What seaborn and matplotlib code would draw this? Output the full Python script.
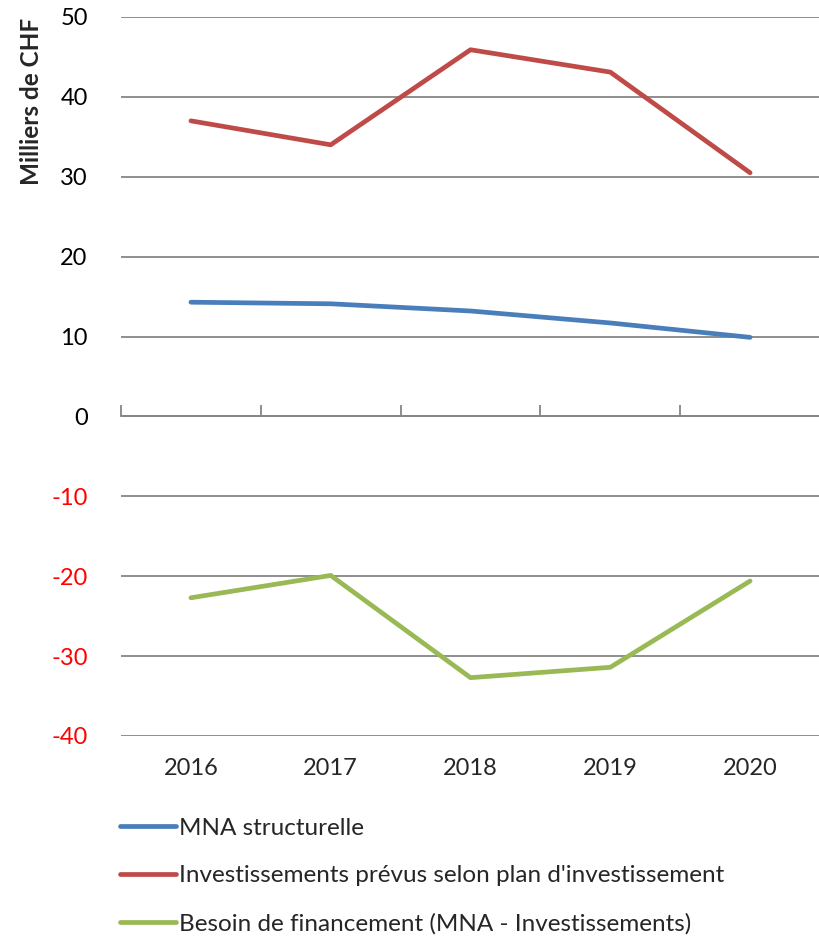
import matplotlib
matplotlib.use("Agg")
import matplotlib.pyplot as plt
import seaborn as sns
import pandas as pd

# ── Data (Milliers de CHF) ────────────────────────────────────────────────────
years = ["2016", "2017", "2018", "2019", "2020"]
mna_structurelle = [14.3, 14.1, 13.2, 11.7, 9.9]
investissements = [37.0, 34.0, 45.9, 43.1, 30.5]
besoin_financement = [-22.7, -19.9, -32.7, -31.4, -20.6]
series_names = [
    "MNA structurelle",
    "Investissements prévus selon plan d'investissement",
    "Besoin de financement (MNA - Investissements)",
]
yticks = [-40, -30, -20, -10, 0, 10, 20, 30, 40, 50]

colors = ["#4A7EBB", "#BE4B48", "#98B954"]
grid_col = "#868686"

rows = []
for name, vals in zip(series_names, [mna_structurelle, investissements, besoin_financement]):
    for i, v in enumerate(vals):
        rows.append({"pos": i, "serie": name, "valeur": v})
df = pd.DataFrame(rows)

sns.set_theme(style="white")
plt.rcParams["font.family"] = ["Lato", "DejaVu Sans"]

fig = plt.figure(figsize=(8.2, 9.39), dpi=100)
ax = fig.add_axes([0.1476, 0.2162, 0.8524, 0.7657])

sns.lineplot(data=df, x="pos", y="valeur", hue="serie", hue_order=series_names,
             palette=colors, linewidth=3.4, ax=ax, legend=True)
handles, labels = ax.get_legend_handles_labels()
ax.get_legend().remove()

ax.set_xlim(-0.5, 4.5)
ax.set_ylim(-40, 50)
ax.set_xticks(range(len(years)))
ax.set_xticklabels(years, fontsize=17)
ax.set_yticks(yticks)
ax.set_yticklabels([str(t) for t in yticks], fontsize=17)
for lab, t in zip(ax.get_yticklabels(), yticks):
    lab.set_color("#FF0000" if t < 0 else "black")
ax.tick_params(axis="both", length=0)
ax.tick_params(axis="y", pad=24)
ax.tick_params(axis="x", pad=16)
ax.set_xlabel("")
ax.set_ylabel("Milliers de CHF", fontsize=17.5, fontweight="bold")
ax.yaxis.set_label_coords(-0.112, 0.882)
ax.yaxis.grid(True, color=grid_col, linewidth=1.3)
ax.xaxis.grid(False)
ax.set_axisbelow(True)
for s in ax.spines.values():
    s.set_visible(False)

# horizontal axis line at zero with category tick marks
sec = ax.secondary_xaxis(40 / 90)
sec.set_xticks([-0.5, 0.5, 1.5, 2.5, 3.5])
sec.tick_params(direction="in", length=8, width=1.3, color=grid_col, labelbottom=False, labeltop=False)
for s in sec.spines.values():
    s.set_color(grid_col)
    s.set_linewidth(1.3)

fig.legend(handles, labels, loc="upper left", bbox_to_anchor=(0.135, 0.1395),
           frameon=False, fontsize=17.5, handlelength=2.3, handletextpad=0.1,
           labelspacing=1.1, borderaxespad=0)

plt.savefig("out.png", dpi=100)
plt.close()
